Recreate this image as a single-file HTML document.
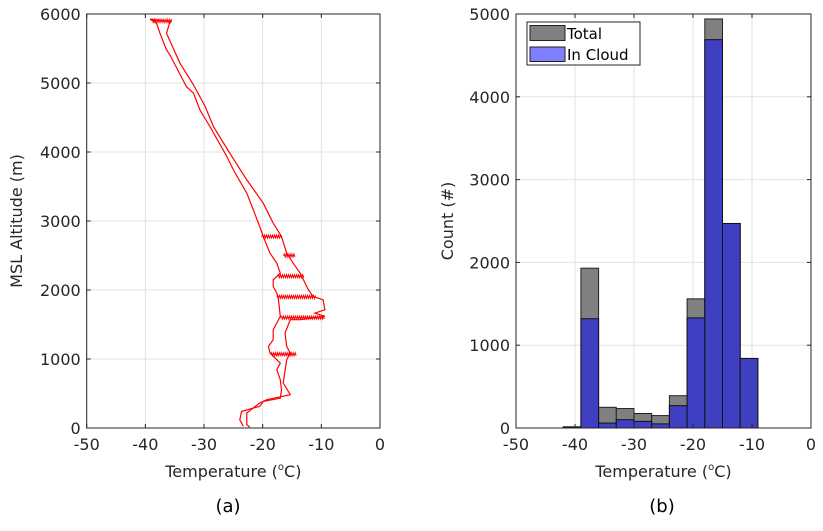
<!DOCTYPE html>
<html><head><meta charset="utf-8"><style>
body{margin:0;background:#fff;}
svg{font-family:"DejaVu Sans","Liberation Sans",sans-serif;}
</style></head><body>
<svg id="fig" width="823" height="526" viewBox="0 0 823 526">
<g id="pa"></g>
<g id="pb"></g>
</svg>
<script>
// Panel (a) temperature profile data
const upTemp=[-23.3,-23.9,-23.6,-20.5,-19.9,-17.0,-16.8,-17.0,-17.6,-17.0,-18.75,-19.0,-18.2,-18.2,-17.6,-17.0,-17.3,-17.6,-18.2,-18.2,-17.0,-17.6,-18.75,-19.9,-20.5,-21.6,-22.7,-25.0,-26.1,-29.0,-30.7,-31.8,-33.0,-35.8,-36.4,-37.5,-38.1,-39.2];
const upAlt=[24,119,241,314,386,434,555,700,845,941,1086,1183,1279,1424,1521,1617,1858,1955,2051,2148,2244,2389,2534,2775,2920,3162,3403,3741,3934,4369,4610,4852,4948,5406,5479,5720,5865,5928];
const downTemp=[-39.2,-35.8,-36.4,-35.5,-34.1,-31.8,-29.8,-28.4,-25.6,-22.7,-19.9,-18.2,-16.8,-15.9,-14.8,-13.6,-12.2,-11.4,-9.7,-9.4,-11.1,-9.4,-13.6,-15.3,-16.2,-15.9,-15.3,-15.9,-16.5,-15.3,-19.3,-20.5,-22.7,-22.7,-22.2];
const downAlt=[5928,5889,5720,5551,5286,4972,4658,4369,3982,3596,3258,2968,2775,2534,2389,2244,2003,1906,1858,1713,1665,1617,1569,1569,1376,1183,1086,990,652,483,410,362,217,48,14];
const spikeAlt=[2775,2500,2200,1900,1600,1070,5900];
const spikeMin=[-20.2,-16.5,-17.5,-17.6,-17.0,-18.7,-39.0];
const spikeMax=[-16.8,-14.5,-13.0,-11.0,-9.5,-14.3,-35.5];
const aXTicks=[-50,-40,-30,-20,-10,0];
const aYTicks=[0,1000,2000,3000,4000,5000,6000];
// Panel (b) histogram data
const binEdges=[-42,-39,-36,-33,-30,-27,-24,-21,-18,-15,-12,-9];
const totalCounts=[15,1930,250,235,175,150,390,1560,4940,2470,840];
const cloudCounts=[5,1320,60,100,80,50,270,1330,4690,2470,840];
const bXTicks=[-50,-40,-30,-20,-10,0];
const bYTicks=[0,1000,2000,3000,4000,5000];

const NS="http://www.w3.org/2000/svg";
function mk(parent,tag,attrs,text){const e=document.createElementNS(NS,tag);for(const k in attrs)e.setAttribute(k,attrs[k]);if(text!==undefined)e.textContent=text;parent.appendChild(e);return e;}

function axes(g,L,R,T,B,xt,yt,xs,ys,prefix){
  mk(g,'rect',{x:L,y:T,width:R-L,height:B-T,fill:'#fff'});
  xt.forEach(v=>{const x=xs(v);const l=mk(g,'line',{x1:x,x2:x,y1:T,y2:B,stroke:'#e3e3e3','stroke-width':1});
    
    
    const t=mk(g,'text',{x:x,y:B+22,'text-anchor':'middle','font-size':16,fill:'#262626'},String(v));
    
    });
  yt.forEach(v=>{const y=ys(v);const l=mk(g,'line',{x1:L,x2:R,y1:y,y2:y,stroke:'#e3e3e3','stroke-width':1});
    
    
    const t=mk(g,'text',{x:L-6,y:y+6,'text-anchor':'end','font-size':16,fill:'#262626'},String(v));
    
    });
}
function frame(g,L,R,T,B,xt,yt,xs,ys){
  mk(g,'rect',{x:L,y:T,width:R-L,height:B-T,fill:'none',stroke:'#262626','stroke-width':1});
  xt.forEach(v=>{const x=xs(v);mk(g,'line',{x1:x,x2:x,y1:B,y2:B-4,stroke:'#262626'});mk(g,'line',{x1:x,x2:x,y1:T,y2:T+4,stroke:'#262626'});});
  yt.forEach(v=>{const y=ys(v);mk(g,'line',{x1:L,x2:L+4,y1:y,y2:y,stroke:'#262626'});mk(g,'line',{x1:R,x2:R-4,y1:y,y2:y,stroke:'#262626'});});
}
function xlabel(g,cx,y,name){
  const t=mk(g,'text',{x:cx,y:y,'text-anchor':'middle','font-size':16,fill:'#262626'});
  
  
  mk(t,'tspan',{},'Temperature (');mk(t,'tspan',{dy:-7,'font-size':10},'o');mk(t,'tspan',{dy:7},'C)');
}

// Panel a
const pa=document.getElementById('pa');
const aL=86.7,aR=380,aT=14,aB=428;
const axs=v=>aL+(v+50)/50*(aR-aL), ays=v=>aB-v/6000*(aB-aT);
axes(pa,aL,aR,aT,aB,aXTicks,aYTicks,axs,ays,'a-');
function poly(g,xsArr,ysArr,name){
  const pts=xsArr.map((v,i)=>axs(v).toFixed(1)+','+ays(ysArr[i]).toFixed(1)).join(' ');
  const p=mk(g,'polyline',{points:pts,fill:'none',stroke:'#ff0000','stroke-width':1.2});
  
  
}
poly(pa,upTemp,upAlt,'ascent-trace');
poly(pa,downTemp,downAlt,'descent-trace');
spikeAlt.forEach((a,i)=>{
  const x0=axs(spikeMin[i]),x1=axs(spikeMax[i]),y=ays(a);
  let d='M'+x0+','+y;const n=Math.max(3,Math.round(x1-x0));
  for(let k=1;k<=n;k++){d+=' L'+(x0+(x1-x0)*k/n).toFixed(1)+','+(y+(k%2?-1.5:1.5));}
  const p=mk(pa,'path',{d:d,fill:'none',stroke:'#ff0000','stroke-width':1});
  
  
});
frame(pa,aL,aR,aT,aB,aXTicks,aYTicks,axs,ays);
xlabel(pa,(aL+aR)/2,477,'a-x-axis-title');
const ayl=mk(pa,'text',{x:0,y:0,transform:'translate(22,221) rotate(-90)','text-anchor':'middle','font-size':16,fill:'#262626'},'MSL Altitude (m)');

const ca=mk(pa,'text',{x:228,y:512,'text-anchor':'middle','font-size':18,fill:'#000'},'(a)');


// Panel b
const pb=document.getElementById('pb');
const bL=516,bR=811,bT=14,bB=428;
const bxs=v=>bL+(v+50)/50*(bR-bL), bys=v=>bB-v/5000*(bB-bT);
axes(pb,bL,bR,bT,bB,bXTicks,bYTicks,bxs,bys,'b-');
totalCounts.forEach((c,i)=>{
  const x0=bxs(binEdges[i]),x1=bxs(binEdges[i+1]);
  const r=mk(pb,'rect',{x:x0,y:bys(c),width:x1-x0,height:bB-bys(c),fill:'#808080',stroke:'#222','stroke-width':1});
  
  
});
cloudCounts.forEach((c,i)=>{
  const x0=bxs(binEdges[i]),x1=bxs(binEdges[i+1]);
  const r=mk(pb,'rect',{x:x0,y:bys(c),width:x1-x0,height:bB-bys(c),fill:'#3f3fc2',stroke:'#111','stroke-width':1});
  
  
});
frame(pb,bL,bR,bT,bB,bXTicks,bYTicks,bxs,bys);
xlabel(pb,(bL+bR)/2,477,'b-x-axis-title');
const byl=mk(pb,'text',{x:0,y:0,transform:'translate(453,221) rotate(-90)','text-anchor':'middle','font-size':16,fill:'#262626'},'Count (#)');

const cb=mk(pb,'text',{x:662,y:512,'text-anchor':'middle','font-size':18,fill:'#000'},'(b)');

// legend
const lg=mk(pb,'g',{});

mk(lg,'rect',{x:527,y:22,width:113,height:43,fill:'#fff',stroke:'#262626','stroke-width':1});
const e1=mk(lg,'rect',{x:530,y:25.5,width:35,height:15,fill:'#808080',stroke:'#222'});

mk(lg,'text',{x:567,y:39,'font-size':15,fill:'#000'},'Total');
const e2=mk(lg,'rect',{x:530,y:47,width:35,height:14.5,fill:'#7f7fff',stroke:'#222'});

mk(lg,'text',{x:567,y:60,'font-size':15,fill:'#000'},'In Cloud');
</script>
</body></html>
